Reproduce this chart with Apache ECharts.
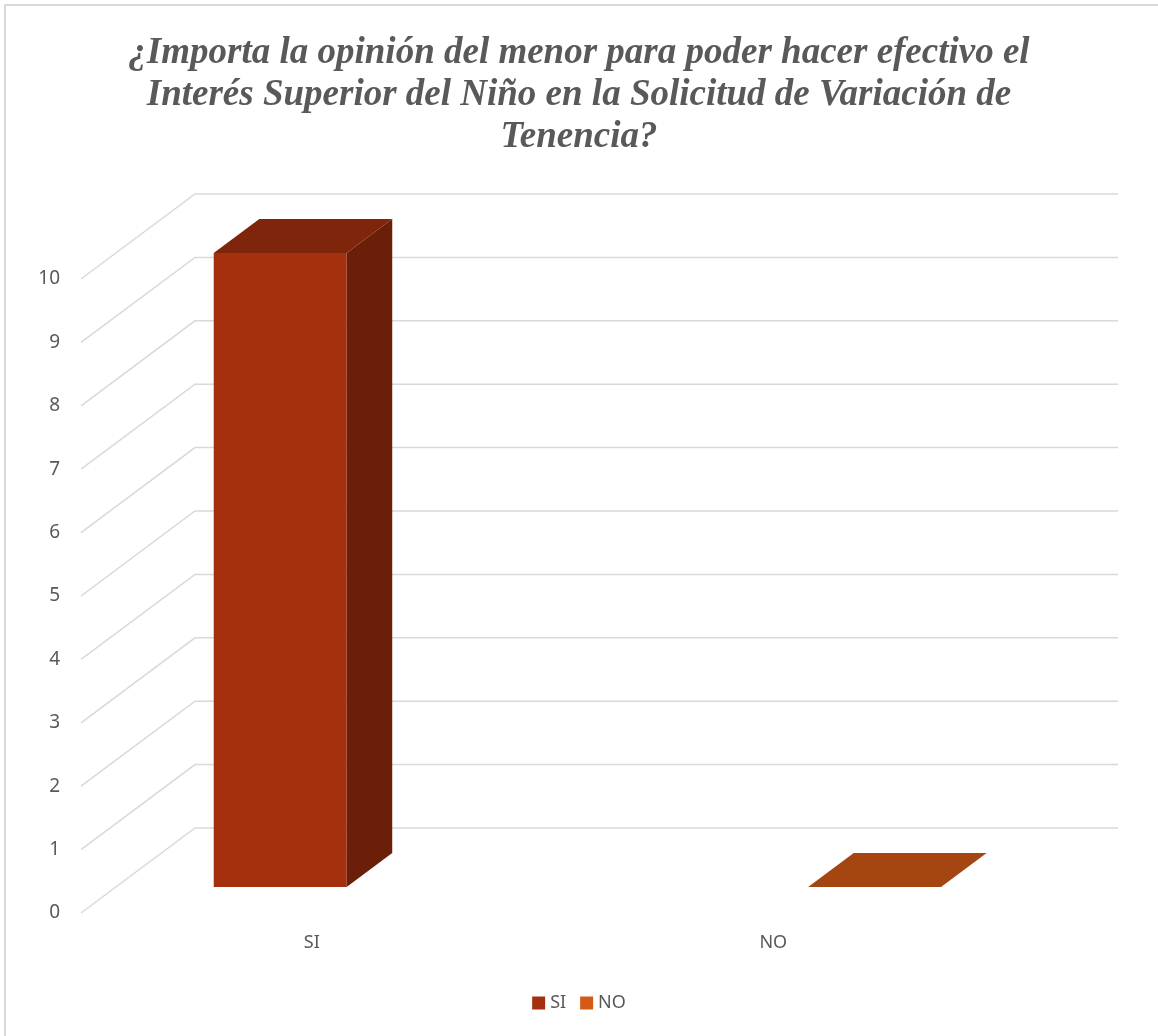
<!DOCTYPE html>
<html>
<head>
<meta charset="utf-8">
<title>Interés Superior del Niño</title>
<script src="https://cdn.jsdelivr.net/npm/echarts@6/dist/echarts.min.js"></script>
<style>
  html, body { margin: 0; padding: 0; background: #fff; }
  #chart { width: 1158px; height: 1036px; }
</style>
</head>
<body>
<div id="chart"></div>
<script>
// datos
const categories = ['SI', 'NO']
const siValues = [10, null]
const noValues = [null, 0]
const yTicks = [0, 1, 2, 3, 4, 5, 6, 7, 8, 9, 10]

const titleText = '¿Importa la opinión del menor para poder hacer efectivo el\nInterés Superior del Niño en la Solicitud de Variación de\nTenencia?'

// profundidad del efecto 3D (pixeles)
const DX = 114
const DY = -85
const FRONT = 0.306
const BACK = 0.706
const textColor = '#595959'
const gridColor = '#D9D9D9'

function shade(hex, k) {
  const n = parseInt(hex.slice(1), 16)
  const r = Math.round(((n >> 16) & 255) * k)
  const g = Math.round(((n >> 8) & 255) * k)
  const b = Math.round((n & 255) * k)
  return 'rgb(' + r + ',' + g + ',' + b + ')'
}

/**
 * paredes del grafico 3D: lineas laterales + pared de fondo
 */
function renderWalls(params, api) {
  const cs = params.coordSys
  const y = api.coord([0, api.value(1)])[1]
  const x0 = cs.x
  return {
    type: 'polyline',
    shape: { points: [[x0, y], [x0 + DX, y + DY], [x0 + cs.width + DX, y + DY]] },
    style: { stroke: gridColor, lineWidth: 1.5, fill: null },
    silent: true
  }
}

function makeBarRenderer(slot, color) {
  return function (params, api) {
    const val = api.value(1)
    if (isNaN(val)) return null
    const idx = api.value(0)
    const band = api.size([1, 0])[0]
    const center = api.coord([idx, 0])[0]
    const barW = band * 0.288
    const left = center - barW + slot * barW
    const y0 = api.coord([idx, 0])[1]
    const y1 = api.coord([idx, val])[1]
    const fx = FRONT * DX, fy = FRONT * DY
    const bx = BACK * DX, by = BACK * DY
    const fl = left + fx, fr = left + barW + fx
    const top = y1 + fy, bot = y0 + fy
    const children = []
    if (bot - top > 0.5) {
      children.push({
        type: 'rect',
        shape: { x: fl, y: top, width: barW, height: bot - top },
        style: { fill: color }
      })
      children.push({
        type: 'polygon',
        shape: { points: [[fr, top], [left + barW + bx, y1 + by], [left + barW + bx, y0 + by], [fr, bot]] },
        style: { fill: shade(color, 0.65) }
      })
    }
    children.push({
      type: 'polygon',
      shape: { points: [[fl, top], [fr, top], [left + barW + bx, y1 + by], [left + bx, y1 + by]] },
      style: { fill: shade(color, 0.77) }
    })
    return { type: 'group', children: children }
  }
}

const siColor = '#A5300E'
const noColor = '#D55A17'

const option = {
  backgroundColor: '#fff',
  animation: false,
  title: {
    text: titleText,
    left: 'center',
    top: 27,
    textStyle: {
      fontFamily: 'Liberation Serif',
      fontStyle: 'italic',
      fontWeight: 'bold',
      fontSize: 37,
      lineHeight: 42,
      color: textColor
    }
  },
  legend: {
    bottom: 19,
    left: 'center',
    icon: 'rect',
    itemWidth: 13,
    itemHeight: 13,
    itemGap: 14,
    data: ['SI', 'NO'],
    textStyle: { fontFamily: 'Noto Sans', fontSize: 18, color: textColor, padding: [0, 0, 0, 0] }
  },
  grid: { left: 81, right: 154, top: 279, bottom: 123 },
  xAxis: {
    type: 'category',
    data: categories,
    axisLine: { show: false },
    axisTick: { show: false },
    axisLabel: { margin: 21, fontFamily: 'Noto Sans', fontSize: 18, color: textColor }
  },
  yAxis: {
    type: 'value',
    min: 0,
    max: 10,
    interval: 1,
    splitLine: { show: false },
    axisLine: { show: false },
    axisTick: { show: false },
    axisLabel: { margin: 21, fontFamily: 'Noto Sans', fontSize: 19, color: textColor }
  },
  graphic: [{
    type: 'rect',
    shape: { x: 5, y: 5, width: 1300, height: 1200 },
    style: { fill: null, stroke: gridColor, lineWidth: 2 },
    silent: true
  }],
  series: [
    {
      type: 'custom',
      name: 'walls',
      renderItem: renderWalls,
      data: yTicks.map(v => [0, v]),
      silent: true,
      z: 1
    },
    {
      type: 'custom',
      name: 'SI',
      itemStyle: { color: siColor },
      renderItem: makeBarRenderer(0, siColor),
      data: siValues.map((v, i) => [i, v == null ? NaN : v]),
      z: 3
    },
    {
      type: 'custom',
      name: 'NO',
      itemStyle: { color: noColor },
      renderItem: makeBarRenderer(1, noColor),
      data: noValues.map((v, i) => [i, v == null ? NaN : v]),
      z: 3
    }
  ]
}

const chart = echarts.init(document.getElementById('chart'))
chart.setOption(option)
</script>
</body>
</html>
